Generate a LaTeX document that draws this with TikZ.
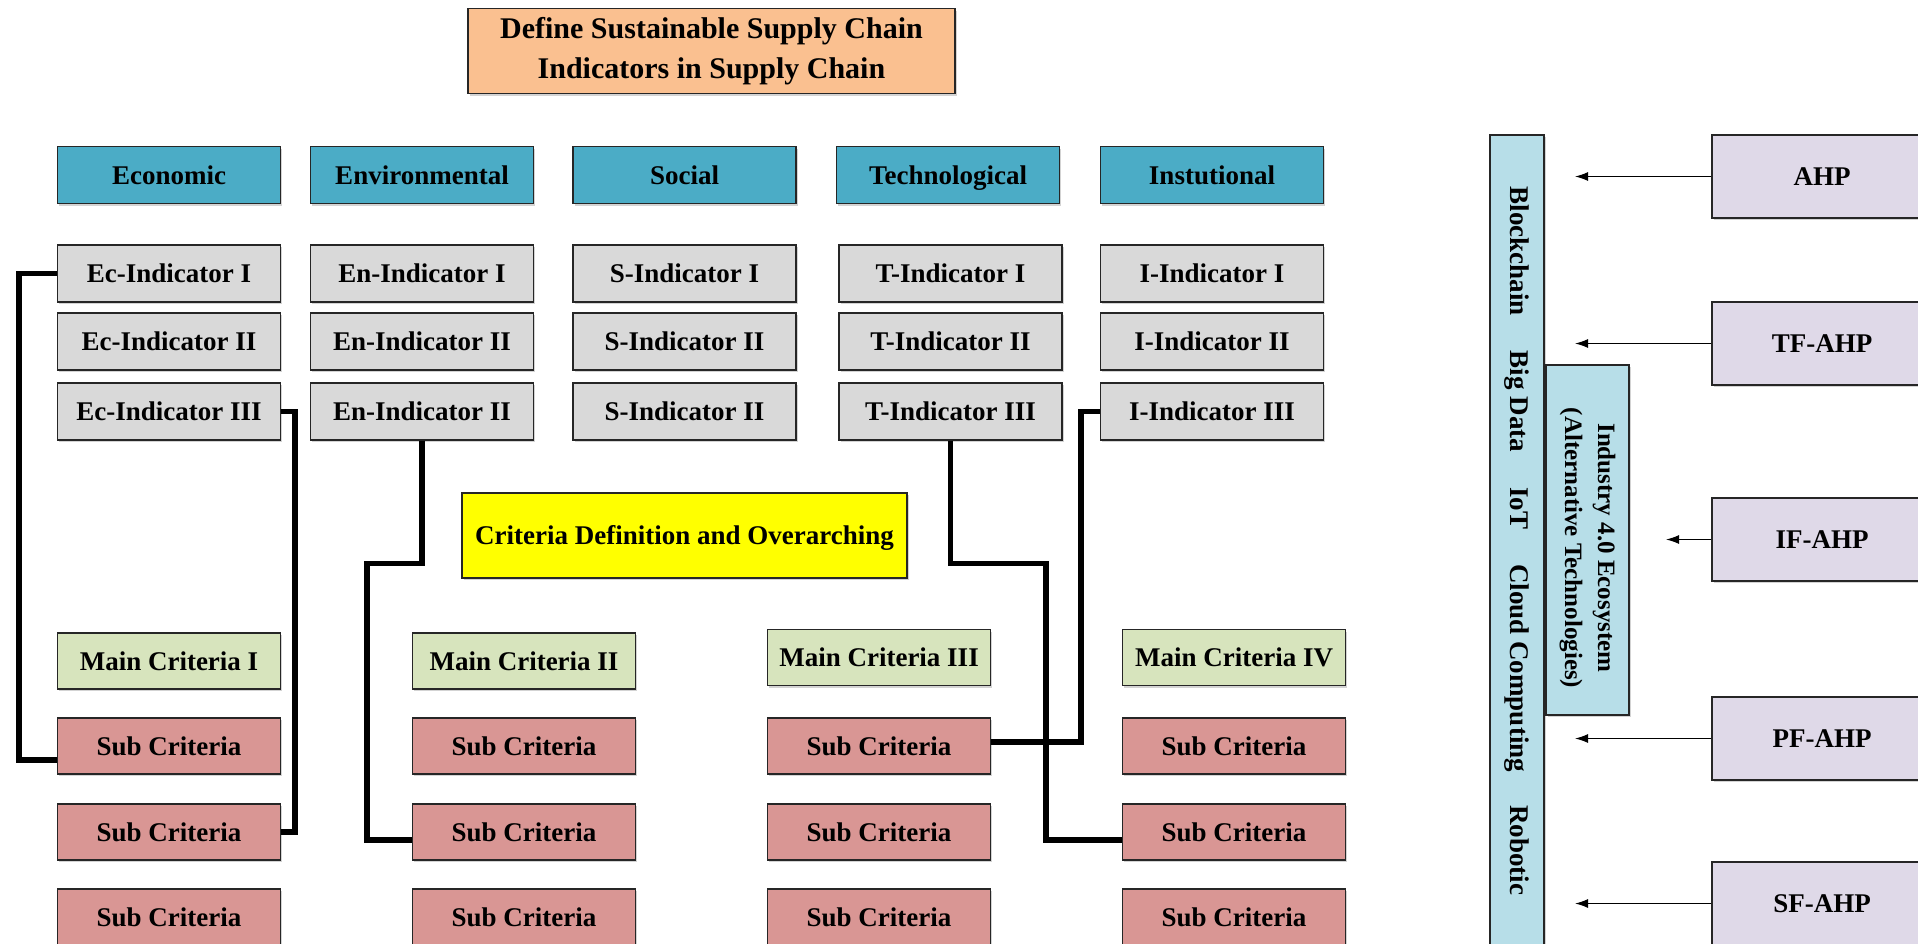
\documentclass[tikz,border=0pt]{standalone}
\usepackage{fontspec}
\setmainfont{Liberation Serif}
\usetikzlibrary{shadows,arrows.meta,calc}
\definecolor{peach}{HTML}{FAC090}
\definecolor{tealh}{HTML}{4BACC6}
\definecolor{greyi}{HTML}{D9D9D9}
\definecolor{yelc}{HTML}{FFFF00}
\definecolor{greenm}{HTML}{D7E4BD}
\definecolor{pinks}{HTML}{D99694}
\definecolor{lblue}{HTML}{B7DEE8}
\definecolor{lav}{HTML}{DFD9E8}
\begin{document}
\begin{tikzpicture}[x=1pt,y=-1pt,
  base/.style={draw=black!85, line width=1.3pt, inner sep=0pt,
    font=\fontsize{27}{32}\selectfont\bfseries,
    drop shadow={shadow xshift=1.5pt,shadow yshift=-2pt,opacity=0.35}},
  cellbox/.style={base, minimum width=223pt, minimum height=57pt, text height=24pt, text depth=6pt},
  headbox/.style={cellbox, fill=tealh},
  indbox/.style={cellbox, fill=greyi},
  mainbox/.style={cellbox, fill=greenm, minimum height=56pt},
  subbox/.style={cellbox, fill=pinks, minimum height=56pt},
  methbox/.style={base, fill=lav, minimum width=220pt, minimum height=83pt, text height=24pt, text depth=6pt},
  conn/.style={line width=5.5pt, black},
  arr/.style={line width=1.3pt, black, -{Latex[length=13pt,width=9pt]}},
  vtext/.style={font=\fontsize{27}{32}\selectfont\bfseries, rotate=-90, inner sep=0pt}
]
\useasboundingbox (0,0) rectangle (1918,943);
\clip (0,0) rectangle (1918,943);

% title
\node[base, fill=peach, minimum width=487pt, minimum height=85pt, align=center,
  font=\fontsize{30}{40}\selectfont\bfseries] (title) at (711.5,51)
  {Define Sustainable Supply Chain\\Indicators in Supply Chain};

% headers
\node[headbox] (hEc) at (169,175) {Economic};
\node[headbox] (hEn) at (422,175) {Environmental};
\node[headbox] (hS) at (684.5,175) {Social};
\node[headbox] (hT) at (948,175) {Technological};
\node[headbox] (hI) at (1212,175) {Instutional};

% indicators
\node[indbox] (ec1) at (169,273.5) {Ec-Indicator I};
\node[indbox] (ec2) at (169,341.5) {Ec-Indicator II};
\node[indbox] (ec3) at (169,411.5) {Ec-Indicator III};
\node[indbox] (en1) at (422,273.5) {En-Indicator I};
\node[indbox] (en2) at (422,341.5) {En-Indicator II};
\node[indbox] (en3) at (422,411.5) {En-Indicator II};
\node[indbox] (s1) at (684.5,273.5) {S-Indicator I};
\node[indbox] (s2) at (684.5,341.5) {S-Indicator II};
\node[indbox] (s3) at (684.5,411.5) {S-Indicator II};
\node[indbox] (t1) at (950.5,273.5) {T-Indicator I};
\node[indbox] (t2) at (950.5,341.5) {T-Indicator II};
\node[indbox] (t3) at (950.5,411.5) {T-Indicator III};
\node[indbox] (i1) at (1212,273.5) {I-Indicator I};
\node[indbox] (i2) at (1212,341.5) {I-Indicator II};
\node[indbox] (i3) at (1212,411.5) {I-Indicator III};

% criteria definition
\node[base, fill=yelc, minimum width=445pt, minimum height=85pt, text height=24pt, text depth=6pt] (crit) at (684.5,535.5)
  {Criteria Definition and Overarching};

% main criteria
\node[mainbox] (m1) at (169,661) {Main Criteria I};
\node[mainbox] (m2) at (524,661) {Main Criteria II};
\node[mainbox] (m3) at (879,657.5) {Main Criteria III};
\node[mainbox] (m4) at (1234,657.5) {Main Criteria IV};

% sub criteria
\node[subbox] (sub11) at (169,746) {Sub Criteria};
\node[subbox] (sub21) at (169,832) {Sub Criteria};
\node[subbox] (sub31) at (169,917) {Sub Criteria};
\node[subbox] (sub12) at (524,746) {Sub Criteria};
\node[subbox] (sub22) at (524,832) {Sub Criteria};
\node[subbox] (sub32) at (524,917) {Sub Criteria};
\node[subbox] (sub13) at (879,746) {Sub Criteria};
\node[subbox] (sub23) at (879,832) {Sub Criteria};
\node[subbox] (sub33) at (879,917) {Sub Criteria};
\node[subbox] (sub14) at (1234,746) {Sub Criteria};
\node[subbox] (sub24) at (1234,832) {Sub Criteria};
\node[subbox] (sub34) at (1234,917) {Sub Criteria};

% connectors
\draw[conn] (ec1.west) -- ++(-38,0) |- ([yshift=-14pt]sub11.west);
\draw[conn] (ec3.east) -- ++(14,0) |- (sub21.east);
\draw[conn] (en3.south) -- ++(0,123) -- ++(-55,0) |- ([yshift=-8pt]sub22.west);
\draw[conn] (t3.south) -- ++(0,123) -- ++(95.5,0) |- ([yshift=-8pt]sub24.west);
\draw[conn] ([yshift=4pt]sub13.east) -- ++(90,0) |- (i3.west);

% right side
\node[base, fill=lblue, minimum width=54pt, minimum height=820pt] (bar) at (1517,545) {};
\node[vtext] (techs) at (1517,541)
  {Blockchain\hspace{35pt}Big Data\hspace{35pt}IoT\hspace{35pt}Cloud Computing\hspace{33pt}Robotic};
\node[base, fill=lblue, minimum width=83pt, minimum height=350pt] (ind) at (1587.5,540) {};
\node[vtext, align=center, font=\fontsize{25}{33}\selectfont\bfseries] (indtext) at (1587.5,548)
  {Industry 4.0 Ecosystem\\(Alternative Technologies)};

\node[methbox] (ahp) at (1822,176.5) {AHP};
\node[methbox] (tf) at (1822,343.5) {TF-AHP};
\node[methbox] (if) at (1822,539.5) {IF-AHP};
\node[methbox] (pf) at (1822,738.5) {PF-AHP};
\node[methbox] (sf) at (1822,903.5) {SF-AHP};

\coordinate (a1) at (1575,176.5);
\coordinate (a2) at (1575,343.5);
\coordinate (a3) at (1666,539.5);
\coordinate (a4) at (1575,738.5);
\coordinate (a5) at (1575,903.5);
\draw[arr] (ahp.west) -- (a1);
\draw[arr] (tf.west) -- (a2);
\draw[arr] (if.west) -- (a3);
\draw[arr] (pf.west) -- (a4);
\draw[arr] (sf.west) -- (a5);
\end{tikzpicture}
\end{document}
